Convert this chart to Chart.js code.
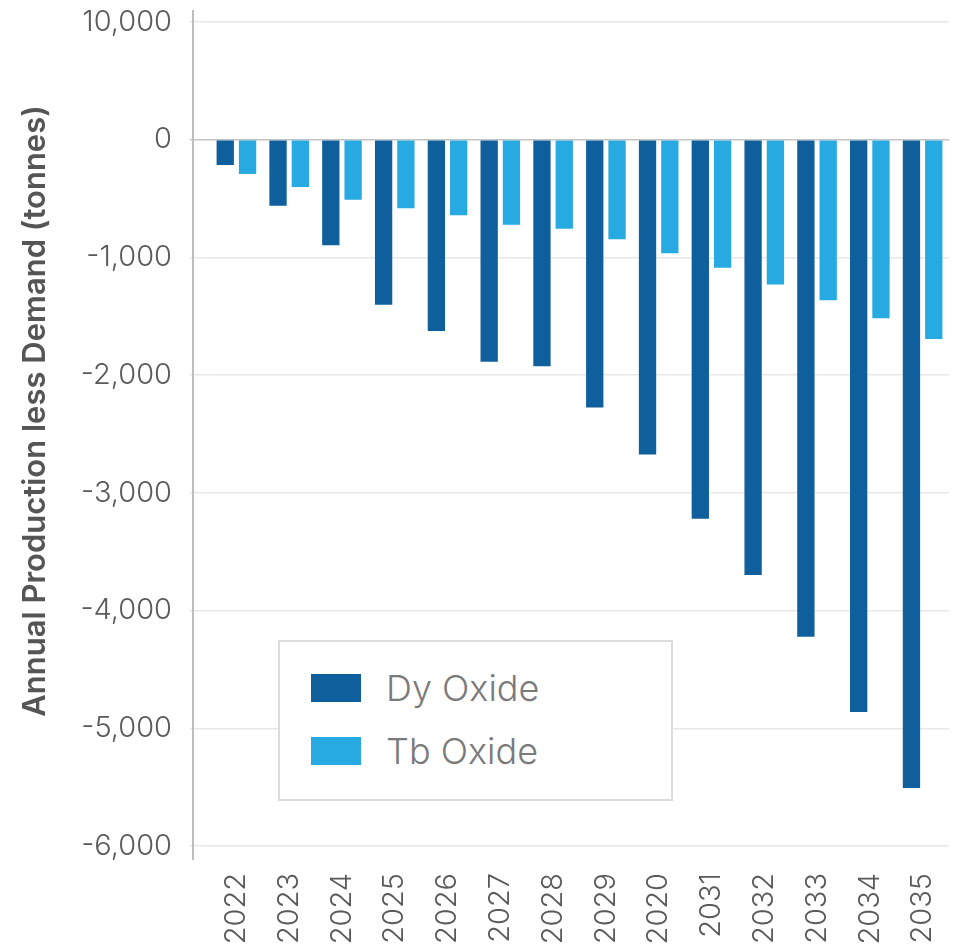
<!DOCTYPE html>
<html>
<head>
<meta charset="utf-8">
<script src="https://cdn.jsdelivr.net/npm/chart.js@4/dist/chart.umd.min.js"></script>
<style>
  html, body { margin: 0; padding: 0; background: #fff; }
  #wrap { position: relative; width: 955px; height: 951px; }
  #legend {
    position: absolute; left: 278px; top: 640px; width: 391px; height: 157px;
    border: 2px solid #dcdcdc; background: #fff;
    font-family: Inter, Lato, sans-serif; font-weight: 300; font-size: 36px; color: #7a7a7a;
  }
  .item { position: absolute; left: 31px; height: 28px; line-height: 28px; white-space: nowrap; }
  .item span { display: inline-block; width: 50px; height: 28px; vertical-align: top; margin-right: 25px; }
</style>
</head>
<body>
<div id="wrap">
  <canvas id="chart" width="955" height="951"></canvas>
  <div id="legend"></div>
</div>
<script>
// categories and values (tonnes)
const years = ['2022','2023','2024','2025','2026','2027','2028','2029','2020','2031','2032','2033','2034','2035'];
const dyOxide = [-215, -560, -897, -1403, -1624, -1887, -1924, -2275, -2674, -3220, -3698, -4222, -4861, -5507];
const tbOxide = [-291, -402, -509, -583, -642, -722, -756, -846, -965, -1087, -1231, -1364, -1517, -1692];

// y ticks: the top one is printed as "10,000" in the original
const yTickValues = [1000, 0, -1000, -2000, -3000, -4000, -5000, -6000];
const yTickLabels = ['10,000', '0', '-1,000', '-2,000', '-3,000', '-4,000', '-5,000', '-6,000'];

const seriesNames = ['Dy Oxide', 'Tb Oxide'];
const seriesColors = ['#0e5f9b', '#27aae1'];
const yTitle = 'Annual Production less Demand (tonnes)';

// axis line sits a little left of the first bar group, plus the rotated y title
const extras = {
    id: 'extras',
    afterDraw(chart) {
        const ctx = chart.ctx;
        const area = chart.chartArea;
        ctx.save();
        ctx.strokeStyle = '#bdbdbd';
        ctx.lineWidth = 2;
        ctx.beginPath();
        ctx.moveTo(area.left - 17, area.top - 12);
        ctx.lineTo(area.left - 17, area.bottom + 14);
        ctx.stroke();

        ctx.translate(36, 411);
        ctx.rotate(-Math.PI / 2);
        ctx.fillStyle = '#555';
        ctx.font = '600 31px Inter, Lato, sans-serif';
        ctx.textAlign = 'center';
        ctx.textBaseline = 'middle';
        ctx.fillText(yTitle, 0, 0);
        ctx.restore();
    }
};

function renderChart() {
    const ctx = document.getElementById('chart').getContext('2d');
    new Chart(ctx, {
        type: 'bar',
        data: {
            labels: years,
            datasets: [
                { label: seriesNames[0], data: dyOxide, backgroundColor: seriesColors[0] },
                { label: seriesNames[1], data: tbOxide, backgroundColor: seriesColors[1] }
            ]
        },
        options: {
            responsive: false,
            animation: false,
            datasets: { bar: { categoryPercentage: 0.845, barPercentage: 0.776 } },
            layout: { padding: { top: 22, right: 6, left: 0, bottom: 0 } },
            plugins: { legend: { display: false }, tooltip: { enabled: false } },
            scales: {
                x: {
                    grid: { display: false, drawTicks: false },
                    border: { display: false },
                    ticks: {
                        minRotation: 90, maxRotation: 90, padding: 27,
                        color: '#5a5a5a',
                        font: { family: 'Inter, Lato, sans-serif', size: 29, weight: 300 }
                    },
                    afterFit(s) { s.height = 105; s.paddingLeft = 0; s.paddingRight = 0; }
                },
                y: {
                    min: -6000, max: 1000,
                    border: { display: false },
                    grid: {
                        tickLength: 20,
                        lineWidth: 1.5,
                        color: c => (c.tick && c.tick.value === 0) ? '#c4c4c4' : '#e8e8e8'
                    },
                    ticks: {
                        stepSize: 1000, padding: 18,
                        color: '#5a5a5a',
                        font: { family: 'Inter, Lato, sans-serif', size: 29, weight: 300 },
                        callback: v => yTickLabels[yTickValues.indexOf(v)]
                    },
                    afterFit(s) { s.width = 210; s.paddingTop = 0; s.paddingBottom = 0; }
                }
            }
        },
        plugins: [extras]
    });
}

// legend box inside the plot
function renderLegend() {
    const legend = document.getElementById('legend');
    seriesNames.forEach((name, i) => {
        const item = document.createElement('div');
        item.className = 'item';
        item.style.top = (32 + i * 63) + 'px';
        item.innerHTML = '<span style="background:' + seriesColors[i] + '"></span>' + name;
        legend.appendChild(item);
    });
}

renderChart();
renderLegend();
</script>
</body>
</html>
